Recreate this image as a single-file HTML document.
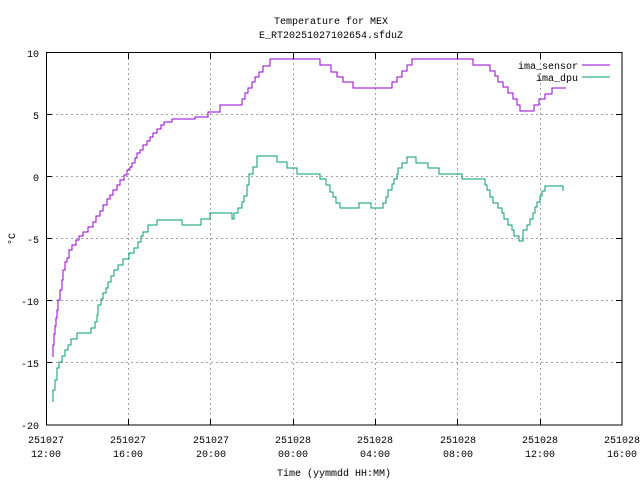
<!DOCTYPE html>
<html><head><meta charset="utf-8"><style>
body{margin:0;background:#fff}
svg{display:block}
text{font-family:"Liberation Mono",monospace;font-size:10px;fill:#000}
</style></head><body>
<svg width="640" height="480" viewBox="0 0 640 480">
<g stroke="#a0a0a0" stroke-width="1" stroke-dasharray="2,3">
<line x1="46" y1="114.5" x2="622" y2="114.5"/>
<line x1="46" y1="176.5" x2="622" y2="176.5"/>
<line x1="46" y1="238.5" x2="622" y2="238.5"/>
<line x1="46" y1="300.5" x2="622" y2="300.5"/>
<line x1="46" y1="362.5" x2="622" y2="362.5"/>
<line x1="128.5" y1="53" x2="128.5" y2="425"/>
<line x1="210.5" y1="53" x2="210.5" y2="425"/>
<line x1="293.5" y1="53" x2="293.5" y2="425"/>
<line x1="375.5" y1="53" x2="375.5" y2="425"/>
<line x1="457.5" y1="53" x2="457.5" y2="425"/>
<line x1="540.5" y1="53" x2="540.5" y2="425"/>
</g>
<rect x="46.5" y="52.5" width="575.5" height="372.5" fill="none" stroke="#000" stroke-width="1"/>
<g stroke="#000">
<path d="M46 114.5h6M46 176.5h6M46 238.5h6M46 300.5h6M46 362.5h6M622 114.5h-6M622 176.5h-6M622 238.5h-6M622 300.5h-6M622 362.5h-6"/>
<path d="M128.5 425v-6M210.5 425v-6M293.5 425v-6M375.5 425v-6M457.5 425v-6M540.5 425v-6M128.5 53v6M210.5 53v6M293.5 53v6M375.5 53v6M457.5 53v6M540.5 53v6"/>
</g>
<g text-anchor="end">
<text x="39" y="57">10</text><text x="39" y="119">5</text><text x="39" y="181">0</text>
<text x="39" y="243">-5</text><text x="39" y="305">-10</text><text x="39" y="367">-15</text><text x="39" y="429">-20</text>
</g>
<g text-anchor="middle">
<text x="46" y="443">251027</text><text x="46" y="457">12:00</text>
<text x="128" y="443">251027</text><text x="128" y="457">16:00</text>
<text x="211" y="443">251027</text><text x="211" y="457">20:00</text>
<text x="293" y="443">251028</text><text x="293" y="457">00:00</text>
<text x="375" y="443">251028</text><text x="375" y="457">04:00</text>
<text x="458" y="443">251028</text><text x="458" y="457">08:00</text>
<text x="540" y="443">251028</text><text x="540" y="457">12:00</text>
<text x="622" y="443">251028</text><text x="622" y="457">16:00</text>
<text x="334" y="476">Time (yymmdd HH:MM)</text>
<text x="331" y="24">Temperature for MEX</text>
<text x="331" y="38">E_RT20251027102654.sfduZ</text>
<text transform="translate(15,239) rotate(-90)">°C</text>
</g>
<text x="578" y="69" text-anchor="end">ima_sensor</text>
<text x="578" y="81" text-anchor="end">ima_dpu</text>
<g shape-rendering="crispEdges">
<line x1="582" y1="65" x2="610" y2="65" stroke="#9400d3" stroke-width="1"/>
<line x1="582" y1="77" x2="610" y2="77" stroke="#009e73" stroke-width="1"/>
<path fill="none" stroke="#9400d3" stroke-width="1" d="M53 357V345H54V334H55V326H56V318H57V310H58V300H60V290H62V280H63V270H65V262H67V258H69V250H72V245H76V240H79V236H83V232H88V227H93V222H96V216H100V211H103V205H107V199H110V195H113V190H117V185H120V180H124V175H127V170H130V167H132V163H135V158H137V153H140V150H143V145H147V141H150V137H153V133H157V129H161V125H164V122H172V119H195V117H208V112H220V105H242V99H245V93H248V88H252V82H255V77H259V72H263V66H270V59H320V65H331V72H337V77H343V82H353V88H392V82H397V77H402V71H407V65H412V59H473V65H490V71H495V76H498V82H503V87H508V93H513V99H517V105H520V111H534V105H539V99H545V94H552V88H566"/>
<path fill="none" stroke="#009e73" stroke-width="1" d="M53 402V390H55V380H57V368H59V362H62V356H65V350H68V345H71V339H77V333H91V328H95V322H97V315H98V305H101V299H103V293H106V288H108V282H111V276H114V270H118V265H123V259H129V253H134V248H138V242H141V236H143V232H148V225H157V220H182V225H201V219H210V213H232V219H234V213H238V208H242V202H244V196H247V185H249V174H253V167H257V156H277V162H287V168H297V174H320V179H326V185H330V192H333V197H336V203H340V208H359V203H371V208H383V203H386V197H388V190H392V184H394V179H397V174H398V168H402V163H407V157H416V163H428V168H439V174H462V179H485V185H487V190H490V197H493V203H498V208H502V213H504V219H508V225H512V230H514V236H519V241H523V236H523V230H527V225H530V219H533V213H535V207H537V202H540V196H542V191H545V186H563V191"/>
</g>
</svg>
</body></html>
